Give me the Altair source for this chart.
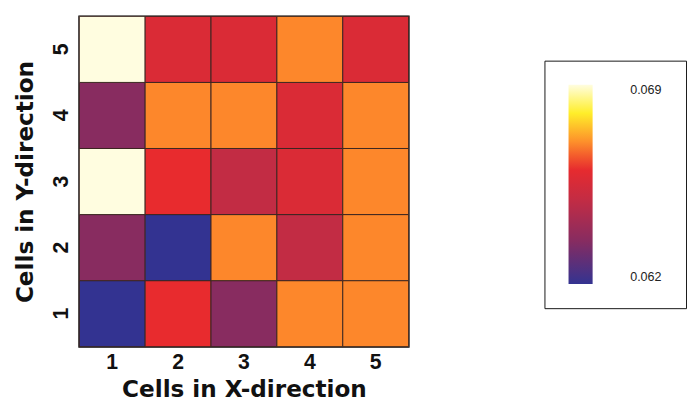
import altair as alt
import pandas as pd

# Grid values (x: cells in X-direction, y: cells in Y-direction)
xs = [1, 2, 3, 4, 5]
ys = [1, 2, 3, 4, 5]
# rows listed from y=1 (bottom) to y=5 (top), each row x=1..5
values = [
    [0.06200, 0.06606, 0.06354, 0.06690, 0.06690],  # y=1
    [0.06354, 0.06200, 0.06690, 0.06494, 0.06690],  # y=2
    [0.06900, 0.06606, 0.06494, 0.06564, 0.06690],  # y=3
    [0.06354, 0.06690, 0.06690, 0.06564, 0.06690],  # y=4
    [0.06900, 0.06564, 0.06564, 0.06690, 0.06564],  # y=5
]

color_domain = [0.0620, 0.06354, 0.06494, 0.06606, 0.0669, 0.06802, 0.0690]
color_range = ["#333391", "#882c60", "#c22c44", "#e82b2e", "#fd872b", "#fff02a", "#fffde0"]
legend_values = [0.062, 0.069]

rows = []
for j, y in enumerate(ys):
    for i, x in enumerate(xs):
        rows.append({"x": x, "y": y, "v": values[j][i]})
df = pd.DataFrame(rows)

TFONT = "DejaVu Sans"
LFONT = "Liberation Sans"

chart = alt.Chart(df).mark_rect(stroke="#3a2520", strokeWidth=1).encode(
    x=alt.X("x:O", title="Cells in X-direction",
            scale=alt.Scale(paddingInner=0, paddingOuter=0),
            axis=alt.Axis(labelAngle=0, ticks=False, domain=False, labelPadding=6,
                          labelFontSize=22, labelFontWeight="bold", titleFontSize=24,
                          titleFontWeight="bold", titlePadding=6, labelFont=LFONT, titleFont=TFONT,
                          labelColor="#111", titleColor="#111")),
    y=alt.Y("y:O", title="Cells in Y-direction", sort="descending",
            scale=alt.Scale(paddingInner=0, paddingOuter=0),
            axis=alt.Axis(labelAngle=-90, labelAlign="center", labelBaseline="bottom",
                          ticks=False, domain=False, labelPadding=7,
                          labelFontSize=22, labelFontWeight="bold", titleFontSize=24,
                          titleFontWeight="bold", titlePadding=14, labelFont=LFONT, titleFont=TFONT,
                          labelColor="#111", titleColor="#111")),
    color=alt.Color("v:Q", title=None,
                    scale=alt.Scale(domain=color_domain, range=color_range, interpolate="rgb"),
                    legend=alt.Legend(orient="none", legendX=483, legendY=46, direction="vertical",
                                      gradientLength=207, gradientThickness=25,
                                      gradientStrokeWidth=0, values=legend_values,
                                      labelFontSize=13, labelFont=LFONT, labelColor="#222",
                                      labelOffset=39, padding=25, strokeColor="#111",
                                      format=".3f")),
).properties(
    width=342, height=343,
    padding={"left": 6, "top": 0, "right": 0, "bottom": 0},
).configure_view(stroke="#111", strokeWidth=2)

chart.save("out.html", embed_options={"renderer": "svg", "actions": False})
